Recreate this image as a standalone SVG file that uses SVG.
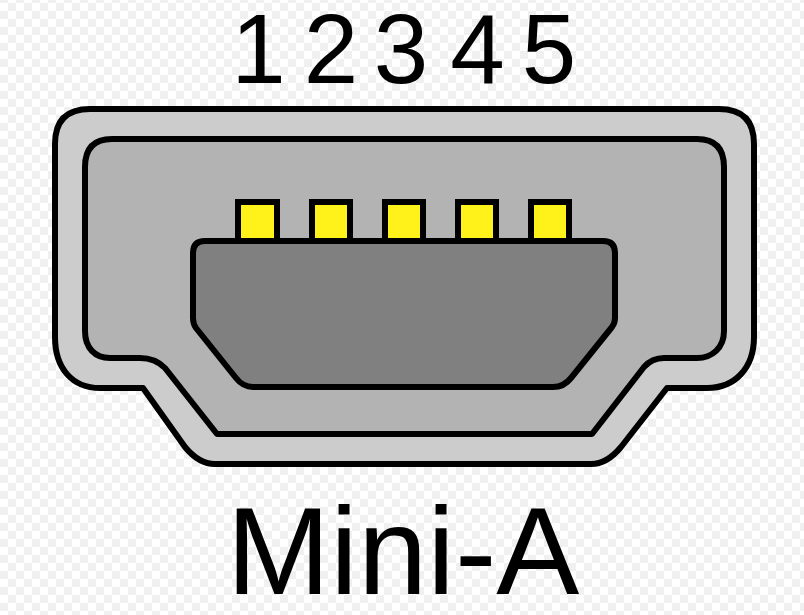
<svg xmlns="http://www.w3.org/2000/svg" width="804" height="615" viewBox="0 0 804 615">
<style>
.o{stroke:#000;stroke-width:6;stroke-linejoin:round}
.p{fill:#fff11a;stroke:#000;stroke-width:6}
text{font-family:"Liberation Sans",Arial,sans-serif;fill:#000;text-anchor:middle}
</style>
<defs><pattern id="chk" width="16" height="16" patternUnits="userSpaceOnUse" patternTransform="translate(0 3)"><rect width="16" height="16" fill="#fff"/><rect x="8" width="8" height="8" fill="#f0f0f0"/><rect y="8" width="8" height="8" fill="#f0f0f0"/></pattern></defs>
<rect width="804" height="615" fill="url(#chk)"/>
<g id="shell"><path class="o" fill="#ccc" d="M90 109H719Q754 109 754 144V337C754 368 735 388 707 388H667L621 447Q607 464 591 464H215Q199 464 185 447L143 388H100C72 388 55 368 55 337V144Q55 109 90 109Z"/></g>
<g id="cavity"><path class="o" fill="#b3b3b3" d="M112 139H697Q724 139 724 167V331C724 348 712 358 697 358H664Q652 358 644 367L592 434H217L165 368Q155 358 140 358H110C95 358 85 348 85 331V167Q85 139 112 139Z"/></g>
<g id="pin1"><rect class="p" x="238" y="202" width="39" height="40"/></g>
<g id="pin2"><rect class="p" x="312" y="202" width="38" height="40"/></g>
<g id="pin3"><rect class="p" x="385" y="202" width="38" height="40"/></g>
<g id="pin4"><rect class="p" x="458" y="202" width="38" height="40"/></g>
<g id="pin5"><rect class="p" x="531" y="202" width="38" height="40"/></g>
<g id="tongue"><path class="o" fill="#808080" d="M205 241H603Q615 241 615 253V318Q615 323 612 327L571 378Q564 387 553 387H253Q243 387 236 378L196 328Q193 324 193 318V253Q193 241 205 241Z"/></g>
<g id="labels" font-size="98">
<text x="258.500" y="82.500">1</text><text x="331" y="82.500">2</text><text x="401" y="82.500">3</text><text x="477.500" y="82.500">4</text><text x="549" y="82.500">5</text>
<text x="403" y="594" font-size="124.500">Mini-A</text>
</g>
</svg>
